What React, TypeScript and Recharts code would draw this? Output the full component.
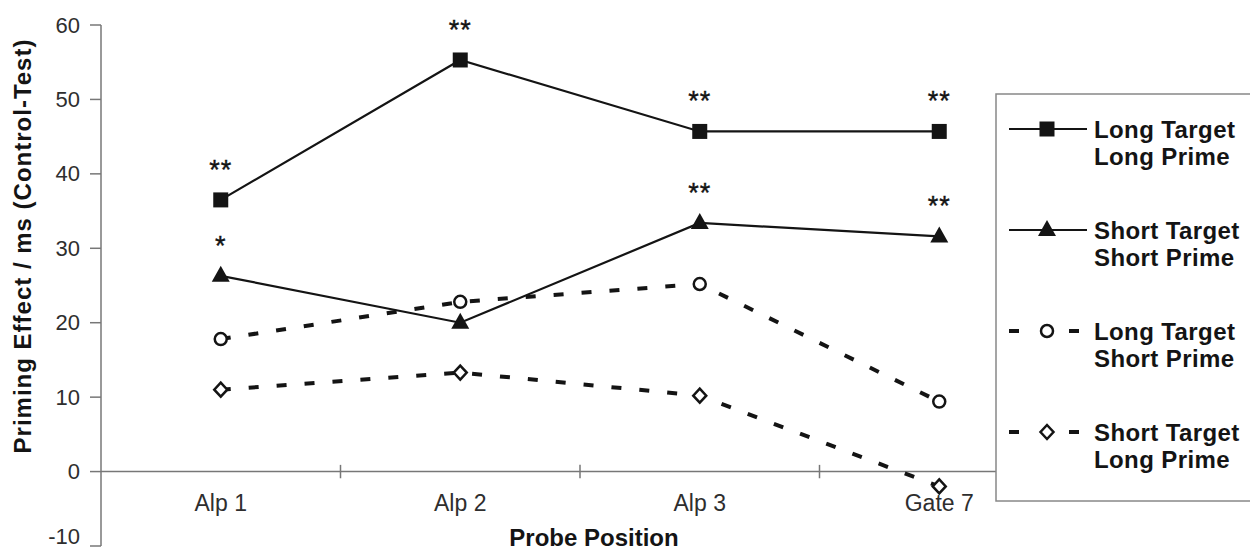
import * as React from "react";
import {
  LineChart,
  Line,
  XAxis,
  YAxis,
  ReferenceLine,
  LabelList
} from "recharts";

const categories = ["Alp 1", "Alp 2", "Alp 3", "Gate 7"];
const longTargetLongPrime = [36.5, 55.3, 45.7, 45.7];
const shortTargetShortPrime = [26.3, 20.0, 33.4, 31.6];
const longTargetShortPrime = [17.8, 22.8, 25.2, 9.4];
const shortTargetLongPrime = [11.0, 13.3, 10.2, -2.0];
const sigLongLong = ["**", "**", "**", "**"];
const sigShortShort = ["*", "", "**", "**"];
const yTicks = [-10, 0, 10, 20, 30, 40, 50, 60];
const boundaries = [1.5, 2.5, 3.5];

const legendItems = [
  { label: ["Long Target", "Long Prime"], marker: "square", dashed: false },
  { label: ["Short Target", "Short Prime"], marker: "triangle", dashed: false },
  { label: ["Long Target", "Short Prime"], marker: "circle", dashed: true },
  { label: ["Short Target", "Long Prime"], marker: "diamond", dashed: true }
];

const data = categories.map((name, i) => ({
  pos: i + 1,
  name,
  ll: longTargetLongPrime[i],
  ss: shortTargetShortPrime[i],
  ls: longTargetShortPrime[i],
  sl: shortTargetLongPrime[i],
  sigLL: sigLongLong[i],
  sigSS: sigShortShort[i]
}));

const FONT = "'Liberation Sans', Arial, sans-serif";
const INK = "#141414";

const Marker = ({ kind, cx, cy }: { kind: string; cx: number; cy: number }) => {
  if (kind === "square")
    return <rect x={cx - 7.5} y={cy - 7.5} width={15} height={15} fill={INK} />;
  if (kind === "triangle")
    return (
      <polygon
        points={`${cx},${cy - 10} ${cx - 9},${cy + 6} ${cx + 9},${cy + 6}`}
        fill={INK}
      />
    );
  if (kind === "circle")
    return <circle cx={cx} cy={cy} r={6} fill="#fff" stroke={INK} strokeWidth={2.5} />;
  return (
    <polygon
      points={`${cx},${cy - 7} ${cx + 6.5},${cy} ${cx},${cy + 7} ${cx - 6.5},${cy}`}
      fill="#fff"
      stroke={INK}
      strokeWidth={2.5}
    />
  );
};

const dot = (kind: string) => (p: any) =>
  <Marker key={`${kind}-${p.index}`} kind={kind} cx={p.cx} cy={p.cy} />;

const stars = (p: any) => {
  if (!p.value) return null;
  return (
    <text
      x={p.x}
      y={p.y - 21}
      textAnchor="middle"
      fontSize={27}
      fontFamily={FONT}
      fill={INK}
      stroke={INK}
      strokeWidth={0.4}
      letterSpacing={1}
    >
      {p.value}
    </text>
  );
};

// y tick labels; the lowest one is nudged up so it stays inside the picture
const YTick = (p: any) => (
  <text
    x={p.x}
    y={Math.min(p.y, 536)}
    textAnchor="end"
    dominantBaseline="central"
    fontSize={22}
    fontFamily={FONT}
    fill="#2e2e2e"
  >
    {p.payload.value}
  </text>
);

const LegendBox = () => (
  <svg width={256} height={409} style={{ display: "block" }}>
    <rect x={1} y={1} width={270} height={407} fill="#fff" stroke="#888" strokeWidth={1.5} />
    {legendItems.map((it, i) => {
      const y = 36 + i * 101;
      return (
        <g key={i}>
          {it.dashed ? (
            <>
              <line x1={14} x2={24} y1={y} y2={y} stroke={INK} strokeWidth={4} />
              <line x1={74} x2={84} y1={y} y2={y} stroke={INK} strokeWidth={4} />
            </>
          ) : (
            <line x1={14} x2={92} y1={y} y2={y} stroke={INK} strokeWidth={2} />
          )}
          <Marker kind={it.marker} cx={52} cy={y} />
          <text x={99} y={y} dominantBaseline="central" fontSize={24} letterSpacing={0.4} fontWeight="bold" fontFamily={FONT} fill={INK}>
            {it.label[0]}
          </text>
          <text x={99} y={y + 27} dominantBaseline="central" fontSize={24} letterSpacing={0.4} fontWeight="bold" fontFamily={FONT} fill={INK}>
            {it.label[1]}
          </text>
        </g>
      );
    })}
  </svg>
);

export default function App() {
  return (
    <div style={{ position: "absolute", left: 0, top: 0, width: 1250, height: 550, background: "#fff", overflow: "hidden" }}>
      <LineChart
        width={1250}
        height={550}
        data={data}
        margin={{ top: 25, right: 191, left: 0, bottom: 0 }}
        style={{ fontFamily: FONT }}
      >
        <XAxis
          dataKey="pos"
          type="number"
          domain={[0.5, 4.5]}
          ticks={[1, 2, 3, 4]}
          height={4}
          axisLine={false}
          tickLine={false}
          tickSize={0}
          tickMargin={0}
          interval={0}
          tick={(p: any) => (
            <text
              x={p.x}
              y={p.y - 43}
              textAnchor="middle"
              dominantBaseline="central"
              fontSize={23}
              fontFamily={FONT}
              fill="#2e2e2e"
            >
              {categories[p.payload.value - 1]}
            </text>
          )}
          label={{
            content: () => (
              <text x={594} y={537} textAnchor="middle" dominantBaseline="central" fontSize={24} fontWeight="bold" fontFamily={FONT} fill={INK}>
                Probe Position
              </text>
            )
          }}
        />
        <YAxis
          domain={[-10, 60]}
          ticks={yTicks}
          interval={0}
          width={101}
          axisLine={{ stroke: "#777", strokeWidth: 1.5 }}
          tickLine={{ stroke: "#777", strokeWidth: 1.5 }}
          tickSize={11}
          tickMargin={10}
          tick={YTick}
          label={{
            content: () => (
              <text
                x={22}
                y={246}
                transform="rotate(-90, 22, 246)"
                textAnchor="middle"
                dominantBaseline="central"
                fontSize={24}
                letterSpacing={1}
                fontWeight="bold"
                fontFamily={FONT}
                fill={INK}
              >
                Priming Effect / ms (Control-Test)
              </text>
            )
          }}
        />
        <ReferenceLine y={0} stroke="#777" strokeWidth={1.5} />
        {boundaries.map((b) => (
          <ReferenceLine
            key={b}
            segment={[{ x: b, y: -0.9 }, { x: b, y: 0.9 }]}
            stroke="#777"
            strokeWidth={1.5}
          />
        ))}
        <Line
          dataKey="ll"
          stroke={INK}
          strokeWidth={2.2}
          dot={dot("square")}
          activeDot={false}
          isAnimationActive={false}
        >
          <LabelList dataKey="sigLL" content={stars} />
        </Line>
        <Line
          dataKey="ss"
          stroke={INK}
          strokeWidth={2.2}
          dot={dot("triangle")}
          activeDot={false}
          isAnimationActive={false}
        >
          <LabelList dataKey="sigSS" content={stars} />
        </Line>
        <Line
          dataKey="ls"
          stroke={INK}
          strokeWidth={4}
          strokeDasharray="10 18"
          dot={dot("circle")}
          activeDot={false}
          isAnimationActive={false}
        />
        <Line
          dataKey="sl"
          stroke={INK}
          strokeWidth={4}
          strokeDasharray="10 18"
          dot={dot("diamond")}
          activeDot={false}
          isAnimationActive={false}
        />
      </LineChart>
      <div style={{ position: "absolute", left: 995, top: 93 }}>
        <LegendBox />
      </div>
    </div>
  );
}
